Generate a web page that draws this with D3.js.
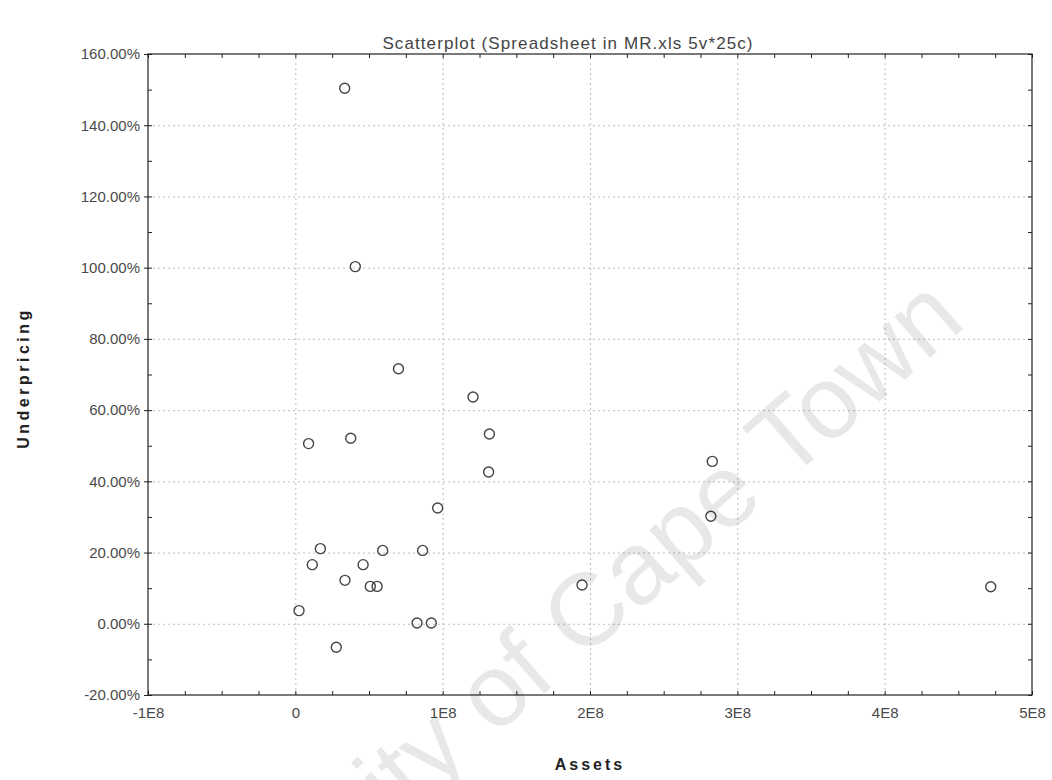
<!DOCTYPE html>
<html lang="en">
<head>
<meta charset="UTF-8">
<title>Scatterplot (Spreadsheet in MR.xls 5v*25c)</title>
<style>
  body { margin: 0; background: #fff; }
  svg text { font-family: Arial, "Liberation Sans", sans-serif; }
  .axis text { fill: #4a4a4a; font-size: 15px; }
  .axis path { display: none; }
  .axis line { stroke: #222; }
  .grid line { stroke: #bdbdbd; stroke-dasharray: 2,3; }
  .grid path { display: none; }
  .grid text { display: none; }
</style>
</head>
<body>
<svg id="chart" width="1052" height="780"></svg>
<script src="https://d3js.org/d3.v7.min.js"></script>
<script>
// data (assets in units, underpricing in %)
const assets = [
  0.335e8, 0.407e8, 0.70e8, 1.206e8, 0.09e8, 0.376e8, 1.317e8, 1.312e8,
  0.966e8, 0.17e8, 0.115e8, 0.593e8, 0.864e8, 0.46e8, 0.337e8, 0.509e8,
  0.555e8, 0.025e8, 0.826e8, 0.923e8, 0.278e8, 2.83e8, 2.82e8, 1.946e8, 4.72e8
];
const underpricing = [
  150.4, 100.3, 71.6, 63.7, 50.6, 52.1, 53.3, 42.6,
  32.5, 21.1, 16.6, 20.6, 20.6, 16.6, 12.2, 10.5,
  10.5, 3.7, 0.2, 0.2, -6.6, 45.6, 30.2, 10.9, 10.4
];
const xTicks = [-1e8, 0, 1e8, 2e8, 3e8, 4e8, 5e8];
const xTickLabels = ["-1E8", "0", "1E8", "2E8", "3E8", "4E8", "5E8"];
const yTicks = [-20, 0, 20, 40, 60, 80, 100, 120, 140, 160];
const yTickLabels = ["-20.00%", "0.00%", "20.00%", "40.00%", "60.00%", "80.00%",
                     "100.00%", "120.00%", "140.00%", "160.00%"];

const plotLeft = 148, plotRight = 1032, plotTop = 54, plotBottom = 695;

const svg = d3.select("#chart");

const x = d3.scaleLinear().domain([-1e8, 5e8]).range([plotLeft, plotRight]);
const y = d3.scaleLinear().domain([-20, 160]).range([plotBottom, plotTop]);

const xMinor = d3.range(-1e8, 5e8 + 1, 0.25e8);
const yMinor = d3.range(-20, 161, 10);

// grid lines
svg.append("g")
  .attr("class", "grid")
  .attr("transform", `translate(0,${plotBottom})`)
  .call(d3.axisBottom(x).tickValues(xTicks.slice(1, -1)).tickSize(-(plotBottom - plotTop)));
svg.append("g")
  .attr("class", "grid")
  .attr("transform", `translate(${plotLeft},0)`)
  .call(d3.axisLeft(y).tickValues(yTicks.slice(1, -1)).tickSize(-(plotRight - plotLeft)));

// small ticks on all four sides, pointing inward
svg.append("g").attr("class", "axis")
  .attr("transform", `translate(0,${plotBottom})`)
  .call(d3.axisBottom(x).tickValues(xMinor).tickSizeInner(-4).tickSizeOuter(0).tickFormat(""));
svg.append("g").attr("class", "axis")
  .attr("transform", `translate(0,${plotTop})`)
  .call(d3.axisTop(x).tickValues(xMinor).tickSizeInner(-4).tickSizeOuter(0).tickFormat(""));
svg.append("g").attr("class", "axis")
  .attr("transform", `translate(${plotRight},0)`)
  .call(d3.axisRight(y).tickValues(yMinor).tickSizeInner(-4).tickSizeOuter(0).tickFormat(""));
svg.append("g").attr("class", "axis")
  .attr("transform", `translate(${plotLeft},0)`)
  .call(d3.axisLeft(y).tickValues(yMinor).tickSizeInner(-4).tickSizeOuter(0).tickFormat(""));

// labelled axes
svg.append("g").attr("class", "axis")
  .attr("transform", `translate(0,${plotBottom})`)
  .call(d3.axisBottom(x).tickValues(xTicks).tickSize(0).tickPadding(12)
    .tickFormat((d, i) => xTickLabels[i]));
svg.append("g").attr("class", "axis")
  .attr("transform", `translate(${plotLeft},0)`)
  .call(d3.axisLeft(y).tickValues(yTicks).tickSize(4).tickPadding(4)
    .tickFormat((d, i) => yTickLabels[i]));

// plot frame
svg.append("rect")
  .attr("x", plotLeft).attr("y", plotTop)
  .attr("width", plotRight - plotLeft).attr("height", plotBottom - plotTop)
  .attr("fill", "none").attr("stroke", "#222").attr("stroke-width", 1.2);

// points
svg.append("g")
  .selectAll("circle")
  .data(assets)
  .join("circle")
  .attr("cx", d => x(d))
  .attr("cy", (d, i) => y(underpricing[i]))
  .attr("r", 5)
  .attr("fill", "none")
  .attr("stroke", "#444")
  .attr("stroke-width", 1.4);

// titles
svg.append("text")
  .attr("x", 568).attr("y", 49)
  .attr("text-anchor", "middle")
  .attr("font-size", 17).attr("letter-spacing", 1.1).attr("fill", "#444")
  .text("Scatterplot (Spreadsheet in MR.xls 5v*25c)");

svg.append("text")
  .attr("x", 590).attr("y", 770)
  .attr("text-anchor", "middle")
  .attr("font-size", 16).attr("font-weight", "bold").attr("letter-spacing", 3)
  .attr("fill", "#222")
  .text("Assets");

svg.append("text")
  .attr("transform", "translate(29,378) rotate(-90)")
  .attr("text-anchor", "middle")
  .attr("font-size", 16).attr("font-weight", "bold").attr("letter-spacing", 3.5)
  .attr("fill", "#222")
  .text("Underpricing");

// watermark
svg.append("text")
  .attr("transform", "translate(968,325) rotate(-41)")
  .attr("text-anchor", "end")
  .attr("font-size", 103)
  .attr("fill", "#000").attr("fill-opacity", 0.09)
  .text("University of Cape Town");
</script>
</body>
</html>
